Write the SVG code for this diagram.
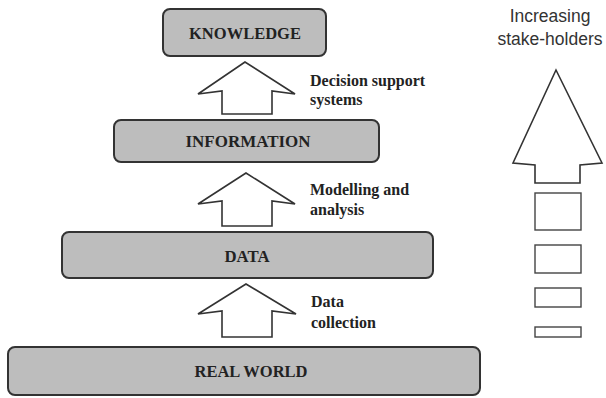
<svg xmlns="http://www.w3.org/2000/svg" width="606" height="398" viewBox="0 0 606 398">
<style>
.box{fill:#bdbdbd;stroke:#333;stroke-width:2}
.bt{font-family:"Liberation Serif",serif;font-weight:bold;font-size:16px;fill:#222;text-anchor:middle}
.lb{font-family:"Liberation Serif",serif;font-weight:bold;font-size:16px;fill:#222}
.arr{fill:#fff;stroke:#333;stroke-width:1.6;stroke-linejoin:miter}
.st{fill:#fff;stroke:#444;stroke-width:1.4}
.rt{font-family:"Liberation Sans",sans-serif;font-size:17.5px;fill:#333;text-anchor:middle}
</style>
<rect width="606" height="398" fill="#fff"/>
<g id="knowledge">
<rect class="box" x="163" y="9" width="163" height="47" rx="7"/>
<text class="bt" x="245" y="39" textLength="112" lengthAdjust="spacingAndGlyphs">KNOWLEDGE</text>
</g>
<g id="information">
<rect class="box" x="114" y="120" width="265" height="42" rx="7"/>
<text class="bt" x="248" y="147" textLength="125" lengthAdjust="spacingAndGlyphs">INFORMATION</text>
</g>
<g id="data">
<rect class="box" x="62" y="232" width="371" height="46" rx="7"/>
<text class="bt" x="247" y="262" textLength="45" lengthAdjust="spacingAndGlyphs">DATA</text>
</g>
<g id="realworld">
<rect class="box" x="8" y="347" width="472" height="48" rx="7"/>
<text class="bt" x="251" y="377" textLength="113" lengthAdjust="spacingAndGlyphs">REAL WORLD</text>
</g>
<g id="connectors">
<polygon class="arr" points="245,62 198,94 222,91 222,114 272,114 272,91 295,94"/>
<polygon class="arr" points="246,173 198,204 222,201 222,226 272,226 272,201 295,204"/>
<polygon class="arr" points="246,284 198,314 222,311 222,337 272,337 272,311 296,314"/>
<text class="lb" x="310" y="86">Decision support</text>
<text class="lb" x="310" y="105">systems</text>
<text class="lb" x="310" y="195">Modelling and</text>
<text class="lb" x="310" y="215">analysis</text>
<text class="lb" x="311" y="307">Data</text>
<text class="lb" x="311" y="328">collection</text>
</g>
<g id="stakeholders">
<text class="rt" x="550" y="22">Increasing</text>
<text class="rt" x="550" y="45">stake-holders</text>
<polygon class="arr" points="556,70 513,163 535,165 535,183 580,183 580,165 602,163"/>
<rect class="st" x="535" y="193" width="46" height="37"/>
<rect class="st" x="535" y="245" width="46" height="28"/>
<rect class="st" x="535" y="288" width="46" height="19"/>
<rect class="st" x="535" y="327" width="46" height="10"/>
</g>
</svg>
